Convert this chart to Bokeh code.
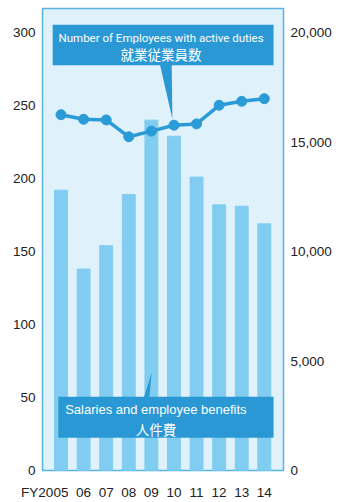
from bokeh.plotting import figure
from bokeh.models import (Range1d, LinearAxis, FixedTicker, PolyAnnotation, Label,
                          BoxAnnotation, NumeralTickFormatter)
from bokeh.embed import file_html
from bokeh.resources import INLINE

years = ["FY2005", "06", "07", "08", "09", "10", "11", "12", "13", "14"]
salaries = [192, 138, 154, 189, 240, 229, 201, 182, 181, 169]
employees = [16250, 16040, 16010, 15240, 15500, 15770, 15830, 16680, 16860, 16980]
left_ticks = [0, 50, 100, 150, 200, 250, 300]
right_ticks = [0, 5000, 10000, 15000, 20000]

idx = list(range(len(years)))

FONT = "Liberation Sans"
NARROW = "Roboto"
BG = "#dff1fb"
BAR = "#80cdf1"
LINE = "#2b9bd7"
BOX = "#2a98d4"
EDGE = "#5ab4e2"
TXT = "#222222"

p = figure(width=334, height=502,
           x_range=Range1d(-0.82, 9.85), y_range=Range1d(0, 316.5),
           output_backend="svg", toolbar_location=None,
           min_border_left=42, min_border_right=48, min_border_top=8, min_border_bottom=29)
p.extra_y_ranges = {"emp": Range1d(0, 21100)}
p.background_fill_color = BG
p.border_fill_color = "white"
p.outline_line_color = EDGE
p.outline_line_width = 1.5
p.xgrid.visible = False
p.ygrid.visible = False


def style_axis(ax, standoff):
    ax.axis_line_color = None
    ax.major_tick_line_color = None
    ax.minor_tick_line_color = None
    ax.major_tick_out = 0
    ax.major_tick_in = 0
    ax.minor_tick_out = 0
    ax.minor_tick_in = 0
    ax.major_label_standoff = standoff
    ax.major_label_text_font = FONT
    ax.major_label_text_font_size = "13.5px"
    ax.major_label_text_color = TXT


# x axis: first label "FY2005" sits left of the first bar, like the original
first_pos = -0.72
xa = p.xaxis[0]
xa.ticker = FixedTicker(ticks=[first_pos] + idx[1:])
xa.major_label_overrides = {first_pos: years[0], **{i: years[i] for i in idx[1:]}}
style_axis(xa, 14)

ya = p.yaxis[0]
ya.ticker = FixedTicker(ticks=left_ticks)
style_axis(ya, 7)

ra = LinearAxis(y_range_name="emp", ticker=FixedTicker(ticks=right_ticks),
                formatter=NumeralTickFormatter(format="0,0"))
style_axis(ra, 7)
p.add_layout(ra, "right")

p.vbar(x=idx, top=salaries, width=0.57, color=BAR)
p.line(idx, employees, y_range_name="emp", line_color=LINE, line_width=3.5)
p.scatter(idx, employees, y_range_name="emp", size=10, color=LINE)

# callout 1
p.add_layout(PolyAnnotation(xs=[4.376, 4.90, 4.93], ys=[278.5, 278.5, 240.8],
                            fill_color=BOX, fill_alpha=1, line_color=None))
p.add_layout(BoxAnnotation(left=-0.37, right=9.41, bottom=277.6, top=305.4,
                           fill_color=BOX, fill_alpha=1, line_color=None))
p.add_layout(Label(x=4.43, y=296.6, text="Number of Employees with active duties",
                   text_align="center", text_baseline="middle", text_font=NARROW,
                   text_font_size="11.5px", text_color="white"))
p.add_layout(Label(x=4.43, y=285, text="就業従業員数",
                   text_align="center", text_baseline="middle", text_font="Noto Sans CJK JP",
                   text_font_size="13.5px", text_color="white"))

# callout 2
p.add_layout(PolyAnnotation(xs=[3.66, 3.91, 4.01], ys=[49.5, 49.5, 66.9],
                            fill_color=BOX, fill_alpha=1, line_color=None))
p.add_layout(BoxAnnotation(left=-0.12, right=9.41, bottom=22.4, top=50.5,
                           fill_color=BOX, fill_alpha=1, line_color=None))
p.add_layout(Label(x=4.20, y=41.5, text="Salaries and employee benefits",
                   text_align="center", text_baseline="middle", text_font=FONT,
                   text_font_size="13px", text_color="white"))
p.add_layout(Label(x=4.20, y=28.6, text="人件費",
                   text_align="center", text_baseline="middle", text_font="Noto Sans CJK JP",
                   text_font_size="13.5px", text_color="white"))

open("out.html", "w").write(file_html(p, INLINE))
